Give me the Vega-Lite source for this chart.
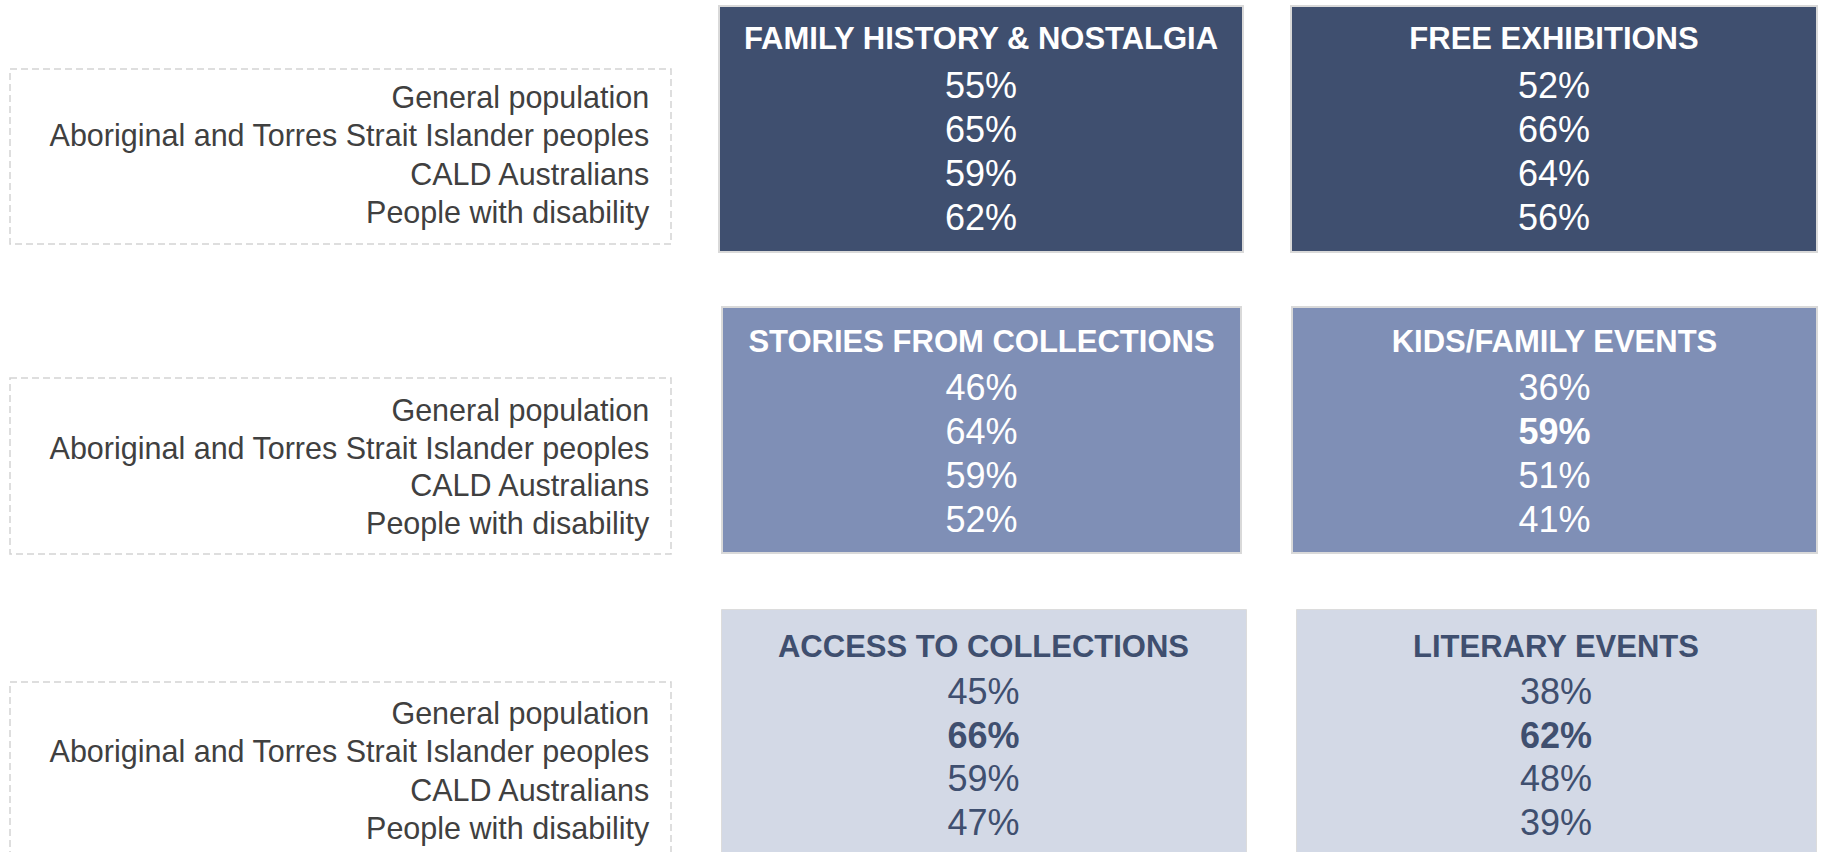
{
  "$schema": "https://vega.github.io/schema/vega-lite/v6.json",
  "background": "white",
  "padding": {"left": 9, "top": 5, "right": 0, "bottom": 0},
  "config": {"view": {"stroke": null}, "font": "Liberation Sans"},
  "datasets": {
    "groups": [
      {"group": "General population"},
      {"group": "Aboriginal and Torres Strait Islander peoples"},
      {"group": "CALD Australians"},
      {"group": "People with disability"}
    ],
    "vals": [
      {"category": "FAMILY HISTORY & NOSTALGIA", "group": "General population", "value": 0.55},
      {"category": "FAMILY HISTORY & NOSTALGIA", "group": "Aboriginal and Torres Strait Islander peoples", "value": 0.65},
      {"category": "FAMILY HISTORY & NOSTALGIA", "group": "CALD Australians", "value": 0.59},
      {"category": "FAMILY HISTORY & NOSTALGIA", "group": "People with disability", "value": 0.62},
      {"category": "FREE EXHIBITIONS", "group": "General population", "value": 0.52},
      {"category": "FREE EXHIBITIONS", "group": "Aboriginal and Torres Strait Islander peoples", "value": 0.66},
      {"category": "FREE EXHIBITIONS", "group": "CALD Australians", "value": 0.64},
      {"category": "FREE EXHIBITIONS", "group": "People with disability", "value": 0.56},
      {"category": "STORIES FROM COLLECTIONS", "group": "General population", "value": 0.46},
      {"category": "STORIES FROM COLLECTIONS", "group": "Aboriginal and Torres Strait Islander peoples", "value": 0.64},
      {"category": "STORIES FROM COLLECTIONS", "group": "CALD Australians", "value": 0.59},
      {"category": "STORIES FROM COLLECTIONS", "group": "People with disability", "value": 0.52},
      {"category": "KIDS/FAMILY EVENTS", "group": "General population", "value": 0.36},
      {"category": "KIDS/FAMILY EVENTS", "group": "Aboriginal and Torres Strait Islander peoples", "value": 0.59},
      {"category": "KIDS/FAMILY EVENTS", "group": "CALD Australians", "value": 0.51},
      {"category": "KIDS/FAMILY EVENTS", "group": "People with disability", "value": 0.41},
      {"category": "ACCESS TO COLLECTIONS", "group": "General population", "value": 0.45},
      {"category": "ACCESS TO COLLECTIONS", "group": "Aboriginal and Torres Strait Islander peoples", "value": 0.66},
      {"category": "ACCESS TO COLLECTIONS", "group": "CALD Australians", "value": 0.59},
      {"category": "ACCESS TO COLLECTIONS", "group": "People with disability", "value": 0.47},
      {"category": "LITERARY EVENTS", "group": "General population", "value": 0.38},
      {"category": "LITERARY EVENTS", "group": "Aboriginal and Torres Strait Islander peoples", "value": 0.62},
      {"category": "LITERARY EVENTS", "group": "CALD Australians", "value": 0.48},
      {"category": "LITERARY EVENTS", "group": "People with disability", "value": 0.39}
    ]
  },
  "vconcat": [
    {
      "spacing": 46,
      "hconcat": [
        {
          "spacing": 0,
          "vconcat": [
            {"width": 661, "height": 62, "view": {"fill": "white"}, "data": {"values": []}, "mark": {"type": "text"}, "encoding": {}},
            {
              "width": 661, "height": 175,
              "view": {"stroke": "#d3d3d3", "strokeDash": [7, 4], "strokeWidth": 1.5},
              "data": {"name": "groups"},
              "mark": {"type": "text", "align": "right", "baseline": "middle", "fontSize": 30.5, "color": "#404040"},
              "encoding": {
                "y": {"field": "group", "type": "nominal", "axis": null, "scale": {"type": "point", "padding": 0.78, "domain": ["General population", "Aboriginal and Torres Strait Islander peoples", "CALD Australians", "People with disability"]}},
                "x": {"datum": "r", "type": "nominal", "axis": null, "scale": {"type": "point", "padding": 0.5, "align": 0.967}},
                "text": {"field": "group"}
              }
            }
          ]
        },
        {
          "width": 524, "height": 246,
          "view": {"fill": "#3f4f6f", "stroke": "#d9d9d9", "strokeWidth": 2},
          "data": {"name": "vals"},
          "transform": [{"filter": "datum.category === 'FAMILY HISTORY & NOSTALGIA'"}],
          "encoding": {
            "y": {"field": "group", "type": "nominal", "axis": null, "scale": {"type": "point", "padding": 0.8, "domain": ["T", "General population", "Aboriginal and Torres Strait Islander peoples", "CALD Australians", "People with disability"]}}
          },
          "layer": [
            {
              "mark": {"type": "text", "baseline": "middle", "fontSize": 36, "color": "white", "dy": 2},
              "encoding": {"text": {"field": "value", "format": ".0%"}}
            },
            {
              "transform": [{"filter": "datum.group === 'General population'"}],
              "mark": {"type": "text", "baseline": "middle", "fontSize": 31, "fontWeight": "bold", "color": "white", "dy": -1},
              "encoding": {"y": {"datum": "T", "type": "nominal"}, "text": {"field": "category"}}
            }
          ]
        },
        {
          "width": 526, "height": 246,
          "view": {"fill": "#3f4f6f", "stroke": "#d9d9d9", "strokeWidth": 2},
          "data": {"name": "vals"},
          "transform": [{"filter": "datum.category === 'FREE EXHIBITIONS'"}],
          "encoding": {
            "y": {"field": "group", "type": "nominal", "axis": null, "scale": {"type": "point", "padding": 0.8, "domain": ["T", "General population", "Aboriginal and Torres Strait Islander peoples", "CALD Australians", "People with disability"]}}
          },
          "layer": [
            {
              "mark": {"type": "text", "baseline": "middle", "fontSize": 36, "color": "white", "dy": 2},
              "encoding": {"text": {"field": "value", "format": ".0%"}}
            },
            {
              "transform": [{"filter": "datum.group === 'General population'"}],
              "mark": {"type": "text", "baseline": "middle", "fontSize": 31, "fontWeight": "bold", "color": "white", "dy": -1},
              "encoding": {"y": {"datum": "T", "type": "nominal"}, "text": {"field": "category"}}
            }
          ]
        }
      ]
    },
    {
      "spacing": 49,
      "hconcat": [
        {
          "spacing": 0,
          "vconcat": [
            {"width": 661, "height": 70, "view": {"fill": "white"}, "data": {"values": []}, "mark": {"type": "text"}, "encoding": {}},
            {
              "width": 661, "height": 176,
              "view": {"stroke": "#d3d3d3", "strokeDash": [7, 4], "strokeWidth": 1.5},
              "data": {"name": "groups"},
              "mark": {"type": "text", "align": "right", "baseline": "middle", "fontSize": 30.5, "color": "#404040", "dy": 2.5},
              "encoding": {
                "y": {"field": "group", "type": "nominal", "axis": null, "scale": {"type": "point", "padding": 0.85, "domain": ["General population", "Aboriginal and Torres Strait Islander peoples", "CALD Australians", "People with disability"]}},
                "x": {"datum": "r", "type": "nominal", "axis": null, "scale": {"type": "point", "padding": 0.5, "align": 0.967}},
                "text": {"field": "group"}
              }
            }
          ]
        },
        {
          "width": 519, "height": 246,
          "view": {"fill": "#7f8fb6", "stroke": "#d9d9d9", "strokeWidth": 2},
          "data": {"name": "vals"},
          "transform": [{"filter": "datum.category === 'STORIES FROM COLLECTIONS'"}],
          "encoding": {
            "y": {"field": "group", "type": "nominal", "axis": null, "scale": {"type": "point", "padding": 0.8, "domain": ["T", "General population", "Aboriginal and Torres Strait Islander peoples", "CALD Australians", "People with disability"]}}
          },
          "layer": [
            {
              "mark": {"type": "text", "baseline": "middle", "fontSize": 36, "color": "white", "dy": 3},
              "encoding": {"text": {"field": "value", "format": ".0%"}}
            },
            {
              "transform": [{"filter": "datum.group === 'General population'"}],
              "mark": {"type": "text", "baseline": "middle", "fontSize": 31, "fontWeight": "bold", "color": "white", "dy": 1},
              "encoding": {"y": {"datum": "T", "type": "nominal"}, "text": {"field": "category"}}
            }
          ]
        },
        {
          "width": 525, "height": 246,
          "view": {"fill": "#7f8fb6", "stroke": "#d9d9d9", "strokeWidth": 2},
          "data": {"name": "vals"},
          "transform": [{"filter": "datum.category === 'KIDS/FAMILY EVENTS'"}],
          "encoding": {
            "y": {"field": "group", "type": "nominal", "axis": null, "scale": {"type": "point", "padding": 0.8, "domain": ["T", "General population", "Aboriginal and Torres Strait Islander peoples", "CALD Australians", "People with disability"]}}
          },
          "layer": [
            {
              "transform": [{"filter": "datum.group !== 'Aboriginal and Torres Strait Islander peoples'"}],
              "mark": {"type": "text", "baseline": "middle", "fontSize": 36, "color": "white", "dy": 3},
              "encoding": {"text": {"field": "value", "format": ".0%"}}
            },
            {
              "transform": [{"filter": "datum.group === 'Aboriginal and Torres Strait Islander peoples'"}],
              "mark": {"type": "text", "baseline": "middle", "fontSize": 36, "fontWeight": "bold", "color": "white", "dy": 3},
              "encoding": {"text": {"field": "value", "format": ".0%"}}
            },
            {
              "transform": [{"filter": "datum.group === 'General population'"}],
              "mark": {"type": "text", "baseline": "middle", "fontSize": 31, "fontWeight": "bold", "color": "white", "dy": 1},
              "encoding": {"y": {"datum": "T", "type": "nominal"}, "text": {"field": "category"}}
            }
          ]
        }
      ]
    },
    {
      "spacing": 48,
      "hconcat": [
        {
          "spacing": 0,
          "vconcat": [
            {"width": 661, "height": 72, "view": {"fill": "white"}, "data": {"values": []}, "mark": {"type": "text"}, "encoding": {}},
            {
              "width": 661, "height": 175,
              "view": {"stroke": "#d3d3d3", "strokeDash": [7, 4], "strokeWidth": 1.5},
              "data": {"name": "groups"},
              "mark": {"type": "text", "align": "right", "baseline": "middle", "fontSize": 30.5, "color": "#404040", "dy": 3},
              "encoding": {
                "y": {"field": "group", "type": "nominal", "axis": null, "scale": {"type": "point", "padding": 0.78, "domain": ["General population", "Aboriginal and Torres Strait Islander peoples", "CALD Australians", "People with disability"]}},
                "x": {"datum": "r", "type": "nominal", "axis": null, "scale": {"type": "point", "padding": 0.5, "align": 0.967}},
                "text": {"field": "group"}
              }
            }
          ]
        },
        {
          "width": 525, "height": 246,
          "view": {"fill": "#d3d9e6", "stroke": "#dcdcdc", "strokeWidth": 1},
          "data": {"name": "vals"},
          "transform": [{"filter": "datum.category === 'ACCESS TO COLLECTIONS'"}],
          "encoding": {
            "y": {"field": "group", "type": "nominal", "axis": null, "scale": {"type": "point", "padding": 0.8, "domain": ["T", "General population", "Aboriginal and Torres Strait Islander peoples", "CALD Australians", "People with disability"]}}
          },
          "layer": [
            {
              "transform": [{"filter": "datum.group !== 'Aboriginal and Torres Strait Islander peoples'"}],
              "mark": {"type": "text", "baseline": "middle", "fontSize": 36, "color": "#3f4f6f", "dy": 4.5},
              "encoding": {"text": {"field": "value", "format": ".0%"}}
            },
            {
              "transform": [{"filter": "datum.group === 'Aboriginal and Torres Strait Islander peoples'"}],
              "mark": {"type": "text", "baseline": "middle", "fontSize": 36, "fontWeight": "bold", "color": "#3f4f6f", "dy": 4.5},
              "encoding": {"text": {"field": "value", "format": ".0%"}}
            },
            {
              "transform": [{"filter": "datum.group === 'General population'"}],
              "mark": {"type": "text", "baseline": "middle", "fontSize": 31, "fontWeight": "bold", "color": "#3f4f6f", "dy": 4},
              "encoding": {"y": {"datum": "T", "type": "nominal"}, "text": {"field": "category"}}
            }
          ]
        },
        {
          "width": 520, "height": 246,
          "view": {"fill": "#d3d9e6", "stroke": "#dcdcdc", "strokeWidth": 1},
          "data": {"name": "vals"},
          "transform": [{"filter": "datum.category === 'LITERARY EVENTS'"}],
          "encoding": {
            "y": {"field": "group", "type": "nominal", "axis": null, "scale": {"type": "point", "padding": 0.8, "domain": ["T", "General population", "Aboriginal and Torres Strait Islander peoples", "CALD Australians", "People with disability"]}}
          },
          "layer": [
            {
              "transform": [{"filter": "datum.group !== 'Aboriginal and Torres Strait Islander peoples'"}],
              "mark": {"type": "text", "baseline": "middle", "fontSize": 36, "color": "#3f4f6f", "dy": 4.5},
              "encoding": {"text": {"field": "value", "format": ".0%"}}
            },
            {
              "transform": [{"filter": "datum.group === 'Aboriginal and Torres Strait Islander peoples'"}],
              "mark": {"type": "text", "baseline": "middle", "fontSize": 36, "fontWeight": "bold", "color": "#3f4f6f", "dy": 4.5},
              "encoding": {"text": {"field": "value", "format": ".0%"}}
            },
            {
              "transform": [{"filter": "datum.group === 'General population'"}],
              "mark": {"type": "text", "baseline": "middle", "fontSize": 31, "fontWeight": "bold", "color": "#3f4f6f", "dy": 4},
              "encoding": {"y": {"datum": "T", "type": "nominal"}, "text": {"field": "category"}}
            }
          ]
        }
      ]
    }
  ],
  "spacing": 53
}
